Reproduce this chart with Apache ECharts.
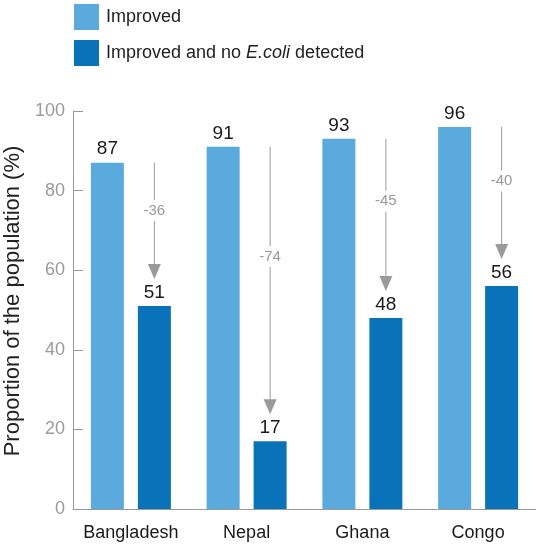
<!DOCTYPE html>
<html>
<head>
<meta charset="utf-8">
<script src="https://cdn.jsdelivr.net/npm/echarts@6/dist/echarts.min.js"></script>
<style>
  html, body { margin: 0; padding: 0; background: #fff; }
  #chart { width: 536px; height: 548px; }
</style>
</head>
<body>
<div id="chart"></div>
<script>
// Drinking-water sources: share of the population using improved sources,
// and the share whose improved source also tested free of E. coli.
const countries = ['Bangladesh', 'Nepal', 'Ghana', 'Congo'];
const improved = [87, 91, 93, 96];
const improvedNoEcoli = [51, 17, 48, 56];
const yTicks = [0, 20, 40, 60, 80, 100];

const seriesNames = ['Improved', 'Improved and no E.coli detected'];
const LIGHT = '#5BAADD';
const DARK = '#0A72B8';
const GREY = '#9a9a9a';
const FONT = '"Liberation Sans", Arial, Helvetica, sans-serif';

const BAR_W = 33;
const BAR_GAP_PX = 14;

const chart = echarts.init(document.getElementById('chart'), null, { renderer: 'canvas' });

// Arrow from the "improved" level down towards the "no E. coli" bar,
// labelled with the drop in percentage points.
function renderArrow(params, api) {
  const i = api.value(0);
  const from = api.value(1);
  const to = api.value(2);
  const x = api.coord([i, from])[0] + (BAR_W + BAR_GAP_PX) / 2;
  const yTop = api.coord([i, from])[1];
  const yTip = api.coord([i, to])[1] - 27;
  const headH = 15, headW = 13;
  const yLabel = yTop + 0.41 * (yTip - yTop);
  return {
    type: 'group',
    children: [
      {
        type: 'line',
        shape: { x1: x, y1: yTop, x2: x, y2: yTip - headH + 1 },
        style: { stroke: GREY, lineWidth: 1 }
      },
      {
        type: 'polygon',
        shape: { points: [[x - headW / 2, yTip - headH], [x + headW / 2, yTip - headH], [x, yTip]] },
        style: { fill: GREY }
      },
      {
        type: 'text',
        x: x,
        y: yLabel,
        style: {
          text: String(to - from),
          fill: GREY,
          font: '15px ' + FONT,
          align: 'center',
          verticalAlign: 'middle',
          backgroundColor: '#fff',
          padding: [3, 1]
        }
      }
    ]
  };
}

const option = {
  animation: false,
  backgroundColor: '#fff',
  textStyle: { fontFamily: FONT },
  legend: {
    orient: 'vertical',
    left: 74,
    top: 4,
    padding: 0,
    itemWidth: 25,
    itemHeight: 26,
    itemGap: 10,
    icon: 'rect',
    data: seriesNames,
    formatter: function (name) {
      return name === seriesNames[1] ? 'Improved and no {i|E.coli} detected' : name;
    },
    textStyle: {
      fontFamily: FONT,
      fontSize: 18,
      color: '#222',
      padding: [0, 0, 0, 2],
      rich: {
        i: { fontFamily: FONT, fontSize: 18, fontStyle: 'italic', color: '#222' }
      }
    }
  },
  grid: { left: 73, right: 0, top: 111, bottom: 39, containLabel: false, outerBoundsMode: 'none' },
  xAxis: {
    type: 'category',
    data: countries,
    axisLine: { lineStyle: { color: GREY, width: 1 } },
    axisTick: { show: false },
    axisLabel: { interval: 0, color: '#1a1a1a', fontSize: 18, fontFamily: FONT, margin: 15 }
  },
  yAxis: {
    type: 'value',
    min: yTicks[0],
    max: yTicks[yTicks.length - 1],
    interval: yTicks[1] - yTicks[0],
    name: 'Proportion of the population (%)',
    nameLocation: 'middle',
    nameGap: 42,
    nameTextStyle: { color: '#222', fontSize: 22, fontFamily: FONT, padding: [0, 0, 0, 18] },
    axisLine: { show: true, lineStyle: { color: GREY, width: 1 } },
    axisTick: { show: true, inside: true, length: 10, lineStyle: { color: GREY } },
    splitLine: { show: false },
    axisLabel: { color: '#9a9a9a', fontSize: 18, fontFamily: FONT, margin: 8 }
  },
  series: [
    {
      name: seriesNames[0],
      type: 'bar',
      data: improved,
      barWidth: BAR_W,
      barGap: (BAR_GAP_PX / BAR_W * 100).toFixed(1) + '%',
      itemStyle: { color: LIGHT },
      label: { show: true, position: 'top', distance: 4, color: '#1a1a1a', fontSize: 19, fontFamily: FONT }
    },
    {
      name: seriesNames[1],
      type: 'bar',
      data: improvedNoEcoli,
      barWidth: BAR_W,
      barGap: (BAR_GAP_PX / BAR_W * 100).toFixed(1) + '%',
      itemStyle: { color: DARK },
      label: { show: true, position: 'top', distance: 4, color: '#1a1a1a', fontSize: 19, fontFamily: FONT }
    },
    {
      type: 'custom',
      name: 'change',
      renderItem: renderArrow,
      data: countries.map((c, i) => [i, improved[i], improvedNoEcoli[i]]),
      encode: { x: 0, y: [1, 2] },
      silent: true,
      z: 5
    }
  ]
};

chart.setOption(option);
</script>
</body>
</html>
